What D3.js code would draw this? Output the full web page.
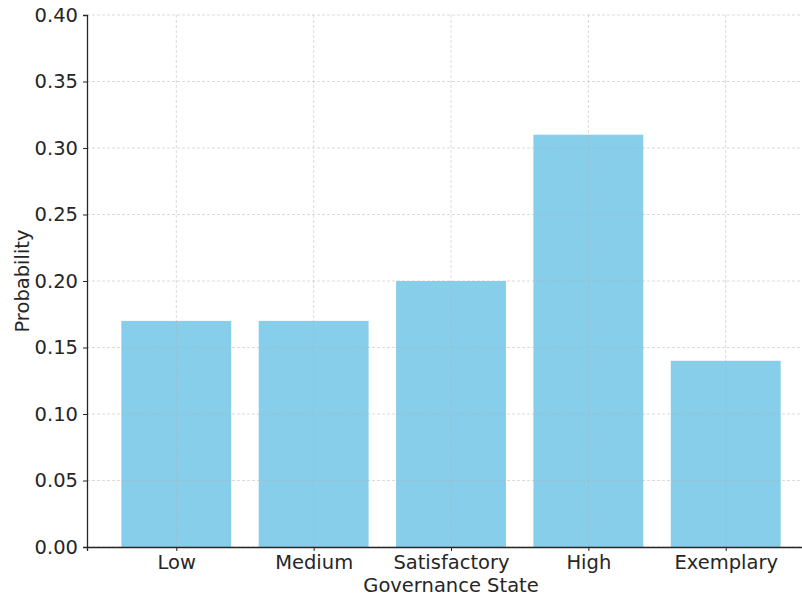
<!DOCTYPE html>
<html><head><meta charset="utf-8">
<script src="https://cdn.jsdelivr.net/npm/d3@7"></script>
<style>body{margin:0;background:#fff}svg{display:block}text{font-family:"DejaVu Sans",sans-serif;fill:#262626}</style>
</head><body>
<script>
const categories = ["Low","Medium","Satisfactory","High","Exemplary"];
const probabilities = [0.17,0.17,0.20,0.31,0.14];
const yTicks = [0,0.05,0.10,0.15,0.20,0.25,0.30,0.35,0.40];

const W=802,H=599;
const svg=d3.select("body").append("svg").attr("width",W).attr("height",H);
const x=d3.scaleLinear().domain([-0.65,4.65]).range([87,815]);
const y=d3.scaleLinear().domain([0,0.4]).range([547,15]);
const bw=x(0.4)-x(-0.4);

svg.selectAll("rect.bar").data(probabilities).enter().append("rect")
  .attr("x",(d,i)=>x(i)-bw/2).attr("width",bw)
  .attr("y",d=>y(d)).attr("height",d=>y(0)-y(d))
  .attr("fill","#87ceeb");

const g=svg.append("g");
g.selectAll("line.hg").data(yTicks).enter().append("line")
  .attr("x1",87).attr("x2",W).attr("y1",d=>y(d)).attr("y2",d=>y(d))
  .attr("stroke","#b0b0b0").attr("stroke-opacity",0.6).attr("stroke-dasharray","3,2").attr("stroke-width",0.8);
g.selectAll("line.vg").data(categories).enter().append("line")
  .attr("x1",(d,i)=>x(i)).attr("x2",(d,i)=>x(i)).attr("y1",15).attr("y2",547)
  .attr("stroke","#b0b0b0").attr("stroke-opacity",0.6).attr("stroke-dasharray","3,2").attr("stroke-width",0.8);

const ya=svg.append("g").attr("transform","translate(87,0)")
  .call(d3.axisLeft(y).tickValues(yTicks).tickFormat(d3.format(".2f")).tickSize(4).tickPadding(5));
const xa=svg.append("g").attr("transform","translate(0,547)")
  .call(d3.axisBottom(x).tickValues(d3.range(categories.length)).tickFormat(i=>categories[i]).tickSize(4).tickPadding(4));
[ya,xa].forEach(a=>{
  a.selectAll("path").attr("stroke","#262626").attr("stroke-width",1.3);
  a.selectAll("line").attr("stroke","#262626").attr("stroke-width",1);
  a.selectAll("text").attr("font-size",19.5).attr("fill","#262626").style("font-family","DejaVu Sans");
});
svg.append("text").attr("x",451).attr("y",592).attr("text-anchor","middle").attr("font-size",19.5).text("Governance State");
svg.append("text").attr("transform","translate(29,281) rotate(-90)").attr("text-anchor","middle").attr("font-size",19.5).text("Probability");
</script>
</body></html>
